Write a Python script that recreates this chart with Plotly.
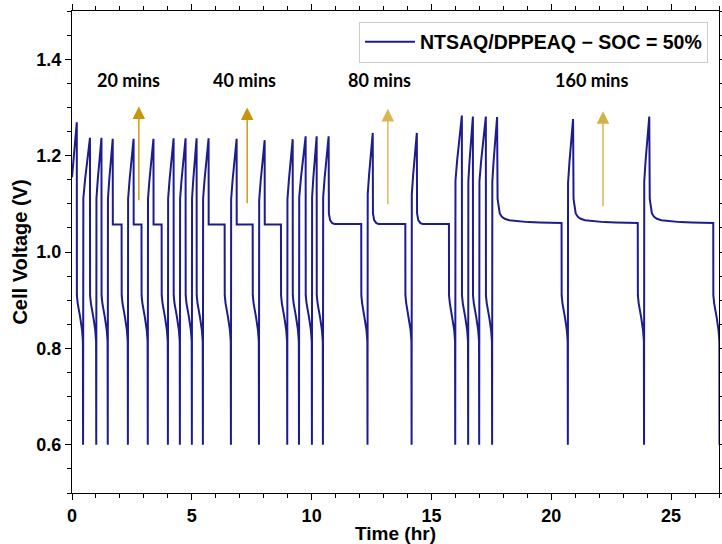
import plotly.graph_objects as go

# ---- data (hours, volts) ----
init_t = [0.00, 0.07, 0.14]
init_v = [1.155, 1.195, 1.235]

peak_t = [0.20, 0.75, 1.23, 1.70, 2.57, 3.40, 4.24, 4.74, 5.20, 5.70, 6.87, 8.04,
          9.21, 9.75, 10.21, 10.71, 12.55, 14.39, 16.27, 16.73, 17.27, 17.74, 20.91, 24.09]
peak_v = [1.269, 1.237, 1.237, 1.235, 1.235, 1.235, 1.236, 1.236, 1.236, 1.236, 1.235, 1.232,
          1.234, 1.240, 1.240, 1.240, 1.247, 1.247, 1.283, 1.281, 1.281, 1.280, 1.276, 1.281]
disch_t = [0.20, 0.75, 1.23, 2.07, 2.90, 3.74, 4.24, 4.74, 5.20, 6.37, 7.54, 8.72,
           9.21, 9.75, 10.21, 12.07, 13.91, 15.73, 16.27, 16.73, 17.27, 20.43, 23.61, 26.76]

# charge shape: fraction of charge time -> fraction of (peak - 0.6)
charge_u = [0.0, 0.015, 0.04, 0.30, 0.55, 0.80, 0.93]
charge_f = [0.0, 0.598, 0.803, 0.866, 0.913, 0.953, 0.976]

# rest (open-circuit) relaxation after charge: time after peak -> volts
relax_long_dt = [0.02, 0.06, 0.11, 0.20, 0.32, 0.50, 0.81, 1.30, 1.78]
relax_long_v = [1.110, 1.090, 1.080, 1.073, 1.069, 1.066, 1.064, 1.062, 1.061]
relax_mid_dt = [0.01, 0.06, 0.15, 0.25]
relax_mid_v = [1.080, 1.066, 1.060, 1.058]
relax_short_dt = [0.004]
relax_short_v = [1.057]

# discharge shape: time after discharge start -> volts
dis_dt = [0.004, 0.04, 0.14, 0.22, 0.255, 0.262]
dis_v = [0.910, 0.893, 0.865, 0.838, 0.815, 0.600]

labels = ["20 mins", "40 mins", "80 mins", "160 mins"]
label_x = [2.36, 7.20, 12.82, 21.68]
label_y = [1.356, 1.356, 1.356, 1.356]
arrow_x = [2.79, 7.31, 13.18, 22.16]
arrow_tip = [1.302, 1.300, 1.297, 1.292]
arrow_tail = [1.104, 1.098, 1.096, 1.092]
arrow_col = ["rgb(200,150,12)", "rgb(200,150,12)", "rgba(200,150,12,0.7)", "rgba(200,150,12,0.75)"]

# ---- assemble the trace from the read values ----
t = list(init_t)
v = list(init_v)
prev_end = None
for i in range(len(peak_t)):
    p, pv, d = peak_t[i], peak_v[i], disch_t[i]
    if prev_end is not None:
        for u, f in zip(charge_u, charge_f):
            t.append(prev_end + u * (p - prev_end))
            v.append(0.6 + f * (pv - 0.6))
    t.append(p)
    v.append(pv)
    rest = d - p
    if rest > 0.01:
        if rest > 2.0:
            rdt, rv = relax_long_dt, relax_long_v
        elif rest > 1.0:
            rdt, rv = relax_mid_dt, relax_mid_v
        else:
            rdt, rv = relax_short_dt, relax_short_v
        for a, b in zip(rdt, rv):
            t.append(p + a)
            v.append(b)
        t.append(d)
        v.append(rv[-1] - (0.001 if rest > 2.0 else 0.0))
    for a, b in zip(dis_dt, dis_v):
        t.append(d + a)
        v.append(b)
    prev_end = d + dis_dt[-1]

fig = go.Figure()
fig.add_trace(go.Scatter(
    x=t, y=v, mode="lines",
    line=dict(color="#1c1c8e", width=2),
    name="NTSAQ/DPPEAQ − SOC = 50%",
))

for i in range(len(labels)):
    fig.add_annotation(
        x=arrow_x[i], y=arrow_tip[i], ax=arrow_x[i], ay=arrow_tail[i],
        xref="x", yref="y", axref="x", ayref="y",
        text="", showarrow=True, arrowhead=2, arrowsize=1.8, arrowwidth=1.4,
        arrowcolor=arrow_col[i], standoff=0,
    )
    fig.add_annotation(
        x=label_x[i], y=label_y[i], xref="x", yref="y", text=labels[i],
        showarrow=False, font=dict(family="Lato", size=18, color="black", weight="bold"),
    )

axis_font = dict(family="Arial, Liberation Sans", size=18, color="black", weight="bold")
fig.update_xaxes(
    range=[0, 27], tickvals=[0, 5, 10, 15, 20, 25], ticks="outside", ticklen=6, tickwidth=1.2,
    tickcolor="black", showline=True, linecolor="black", linewidth=1.2, mirror="allticks",
    showgrid=False, zeroline=False, tickfont=axis_font,
    minor=dict(dtick=1, ticks="outside", ticklen=3.5, tickwidth=1, tickcolor="black", showgrid=False),
    title=dict(text="Time (hr)", font=dict(family="Arial, Liberation Sans", size=19, color="black", weight="bold"), standoff=3),
)
fig.update_yaxes(
    range=[0.5, 1.5], tickvals=[0.6, 0.8, 1.0, 1.2, 1.4], ticktext=["0.6", "0.8", "1.0", "1.2", "1.4"],
    ticks="outside", ticklen=6, tickwidth=1.2, tickcolor="black", showline=True, linecolor="black",
    linewidth=1.2, mirror="allticks", showgrid=False, zeroline=False, tickfont=axis_font,
    minor=dict(dtick=0.05, tick0=0.5, ticks="outside", ticklen=3.5, tickwidth=1, tickcolor="black", showgrid=False),
    title=dict(text="Cell Voltage (V)", font=dict(family="Arial, Liberation Sans", size=20, color="black", weight="bold"), standoff=3),
)
fig.update_layout(
    width=722, height=544, autosize=False,
    margin=dict(l=72, r=3, t=11, b=51, autoexpand=False),
    paper_bgcolor="white", plot_bgcolor="white",
    showlegend=True,
    legend=dict(x=0.983, y=0.978, xanchor="right", yanchor="top", bgcolor="white",
                bordercolor="#cccccc", borderwidth=1, itemwidth=50,
                font=dict(family="Arial, Liberation Sans", size=19.5, color="black", weight="bold")),
)
fig.write_html("out.html")
